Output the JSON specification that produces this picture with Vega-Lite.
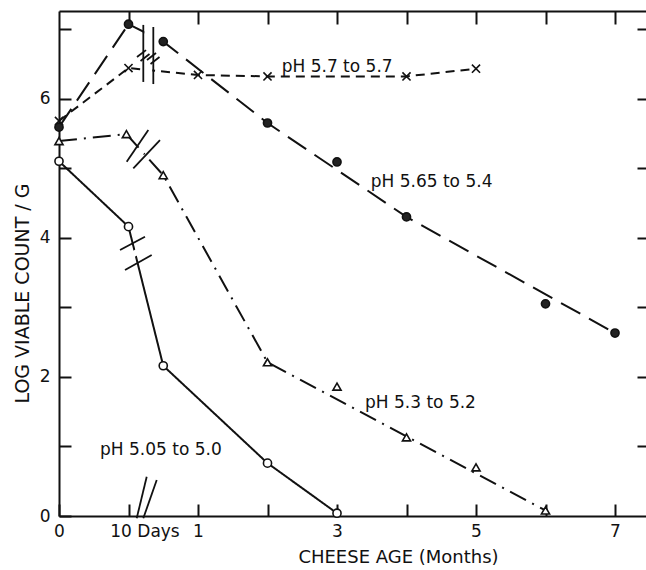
{
  "$schema": "https://vega.github.io/schema/vega-lite/v6.json",
  "width": 587,
  "height": 505,
  "autosize": {"type": "none"},
  "padding": {"left": 59, "top": 11, "right": 0, "bottom": 54},
  "background": "white",
  "config": {
    "view": {"stroke": null},
    "axis": {
      "grid": false,
      "domainColor": "#111111",
      "tickColor": "#111111",
      "labelColor": "#111111",
      "titleColor": "#111111",
      "labelFont": "DejaVu Sans",
      "titleFont": "DejaVu Sans",
      "labelFontSize": 17,
      "titleFontSize": 18,
      "titleFontWeight": "normal",
      "domainWidth": 2,
      "tickWidth": 2,
      "labelOverlap": false,
      "labelFlush": false
    }
  },
  "datasets": {
    "points": [
      {"series": "pH 5.7 to 5.7", "p": 0, "v": 5.68},
      {"series": "pH 5.7 to 5.7", "p": 1, "v": 6.44},
      {"series": "pH 5.7 to 5.7", "p": 2, "v": 6.34},
      {"series": "pH 5.7 to 5.7", "p": 3, "v": 6.32},
      {"series": "pH 5.7 to 5.7", "p": 5, "v": 6.32},
      {"series": "pH 5.7 to 5.7", "p": 6, "v": 6.43},
      {"series": "pH 5.65 to 5.4", "p": 0, "v": 5.59},
      {"series": "pH 5.65 to 5.4", "p": 1, "v": 7.07},
      {"series": "pH 5.65 to 5.4", "p": 1.5, "v": 6.82},
      {"series": "pH 5.65 to 5.4", "p": 3, "v": 5.65},
      {"series": "pH 5.65 to 5.4", "p": 4, "v": 5.09},
      {"series": "pH 5.65 to 5.4", "p": 5, "v": 4.30},
      {"series": "pH 5.65 to 5.4", "p": 7, "v": 3.05},
      {"series": "pH 5.65 to 5.4", "p": 8, "v": 2.63},
      {"series": "pH 5.3 to 5.2", "p": 0, "v": 5.39},
      {"series": "pH 5.3 to 5.2", "p": 0.97, "v": 5.49},
      {"series": "pH 5.3 to 5.2", "p": 1.5, "v": 4.90},
      {"series": "pH 5.3 to 5.2", "p": 3, "v": 2.21},
      {"series": "pH 5.3 to 5.2", "p": 4, "v": 1.86},
      {"series": "pH 5.3 to 5.2", "p": 5, "v": 1.13},
      {"series": "pH 5.3 to 5.2", "p": 6, "v": 0.70},
      {"series": "pH 5.3 to 5.2", "p": 7, "v": 0.08},
      {"series": "pH 5.05 to 5.0", "p": 0, "v": 5.10},
      {"series": "pH 5.05 to 5.0", "p": 1, "v": 4.16},
      {"series": "pH 5.05 to 5.0", "p": 1.5, "v": 2.16},
      {"series": "pH 5.05 to 5.0", "p": 3, "v": 0.76},
      {"series": "pH 5.05 to 5.0", "p": 4, "v": 0.04}
    ],
    "curves": [
      {"series": "pH 5.7 to 5.7", "p": 0, "v": 5.68},
      {"series": "pH 5.7 to 5.7", "p": 1, "v": 6.44},
      {"series": "pH 5.7 to 5.7", "p": 2, "v": 6.34},
      {"series": "pH 5.7 to 5.7", "p": 3, "v": 6.32},
      {"series": "pH 5.7 to 5.7", "p": 5, "v": 6.32},
      {"series": "pH 5.7 to 5.7", "p": 6, "v": 6.43},
      {"series": "pH 5.65 to 5.4", "p": 0, "v": 5.59},
      {"series": "pH 5.65 to 5.4", "p": 1, "v": 7.07},
      {"series": "pH 5.65 to 5.4", "p": 1.5, "v": 6.82},
      {"series": "pH 5.65 to 5.4", "p": 3, "v": 5.65},
      {"series": "pH 5.65 to 5.4", "p": 5, "v": 4.30},
      {"series": "pH 5.65 to 5.4", "p": 8, "v": 2.63},
      {"series": "pH 5.3 to 5.2", "p": 0, "v": 5.39},
      {"series": "pH 5.3 to 5.2", "p": 0.97, "v": 5.49},
      {"series": "pH 5.3 to 5.2", "p": 1.5, "v": 4.90},
      {"series": "pH 5.3 to 5.2", "p": 3, "v": 2.21},
      {"series": "pH 5.3 to 5.2", "p": 7, "v": 0.08},
      {"series": "pH 5.05 to 5.0", "p": 0, "v": 5.10},
      {"series": "pH 5.05 to 5.0", "p": 1, "v": 4.16},
      {"series": "pH 5.05 to 5.0", "p": 1.5, "v": 2.16},
      {"series": "pH 5.05 to 5.0", "p": 3, "v": 0.76},
      {"series": "pH 5.05 to 5.0", "p": 4, "v": 0.04}
    ],
    "masks": [
      {"brk": "high", "p1": 1.285, "v1": 6.12, "p2": 1.285, "v2": 7.12},
      {"brk": "mid", "p1": 1.022, "v1": 5.045, "p2": 1.37, "v2": 5.477},
      {"brk": "low", "p1": 0.914, "v1": 3.68, "p2": 1.285, "v2": 3.884}
    ],
    "bars": [
      {"p1": 1.213, "v1": 6.24, "p2": 1.213, "v2": 7.06},
      {"p1": 1.357, "v1": 6.21, "p2": 1.357, "v2": 7.03},
      {"p1": 1.122, "v1": 6.598, "p2": 1.252, "v2": 6.698},
      {"p1": 1.173, "v1": 6.54, "p2": 1.302, "v2": 6.641},
      {"p1": 1.266, "v1": 6.555, "p2": 1.396, "v2": 6.655},
      {"p1": 1.317, "v1": 6.497, "p2": 1.446, "v2": 6.598},
      {"p1": 0.974, "v1": 5.093, "p2": 1.285, "v2": 5.548},
      {"p1": 1.069, "v1": 4.998, "p2": 1.453, "v2": 5.405},
      {"p1": 0.878, "v1": 3.823, "p2": 1.237, "v2": 4.015},
      {"p1": 0.95, "v1": 3.536, "p2": 1.334, "v2": 3.752},
      {"p1": 1.118, "v1": -0.033, "p2": 1.262, "v2": 0.565},
      {"p1": 1.213, "v1": -0.033, "p2": 1.406, "v2": 0.518}
    ],
    "labels": [
      {"text": "pH 5.7  to 5.7", "p": 3.204, "v": 6.39},
      {"text": "pH 5.65 to 5.4", "p": 4.485, "v": 4.73},
      {"text": "pH 5.3 to 5.2", "p": 4.403, "v": 1.548},
      {"text": "pH 5.05  to 5.0", "p": 0.59, "v": 0.877}
    ]
  },
  "resolve": {"axis": {"x": "independent", "y": "independent"}},
  "layer": [
    {
      "data": {"name": "curves"},
      "mark": {"type": "line", "color": "#111111", "strokeWidth": 2},
      "encoding": {
        "x": {
          "field": "p", "type": "quantitative",
          "scale": {"domain": [0, 8.446], "nice": false, "zero": false},
          "axis": {
            "orient": "bottom",
            "values": [0, 1, 2, 3, 4, 5, 6, 7, 8],
            "tickSize": -12,
            "labelPadding": 19,
            "labelExpr": "['0','10 Days','1','','3','','5','','7'][datum.value]",
            "labelOffset": {"condition": {"test": "datum.value == 1", "value": 16}, "value": 0},
            "title": "CHEESE  AGE  (Months)",
            "titleX": 339,
            "titleY": 41,
            "titleBaseline": "middle",
            "titleAlign": "center"
          }
        },
        "y": {
          "field": "v", "type": "quantitative",
          "scale": {"domain": [0, 7.26], "nice": false, "zero": false},
          "axis": {
            "orient": "left",
            "values": [0, 1, 2, 3, 4, 5, 6, 7],
            "tickSize": -12,
            "labelPadding": 21,
            "labelExpr": "datum.value % 2 == 0 ? datum.label : ''",
            "title": "LOG  VIABLE  COUNT / G",
            "titleFontSize": 19,
            "titleX": -37,
            "titleY": 282,
            "titleAngle": -90,
            "titleBaseline": "middle",
            "titleAlign": "center"
          }
        },
        "detail": {"field": "series", "type": "nominal"},
        "strokeDash": {
          "field": "series", "type": "nominal",
          "scale": {
            "domain": ["pH 5.7 to 5.7", "pH 5.65 to 5.4", "pH 5.3 to 5.2", "pH 5.05 to 5.0"],
            "range": [[9, 6], [22, 10], [18, 7, 2, 7], [1, 0]]
          },
          "legend": null
        }
      }
    },
    {
      "data": {"name": "masks"},
      "mark": {"type": "rule", "color": "white", "strokeCap": "butt"},
      "encoding": {
        "x": {"field": "p1", "type": "quantitative", "axis": null},
        "y": {"field": "v1", "type": "quantitative", "axis": null},
        "x2": {"field": "p2"},
        "y2": {"field": "v2"},
        "strokeWidth": {
          "field": "brk", "type": "nominal",
          "scale": {"domain": ["high", "mid", "low"], "range": [8, 6, 15]},
          "legend": null
        }
      }
    },
    {
      "data": {"name": "bars"},
      "mark": {"type": "rule", "color": "#111111", "strokeWidth": 1.8},
      "encoding": {
        "x": {"field": "p1", "type": "quantitative", "axis": null},
        "y": {"field": "v1", "type": "quantitative", "axis": null},
        "x2": {"field": "p2"},
        "y2": {"field": "v2"}
      }
    },
    {
      "data": {"name": "points"},
      "mark": {"type": "point", "filled": true, "size": 66, "stroke": "#111111", "strokeWidth": 1.6, "opacity": 1},
      "encoding": {
        "x": {
          "field": "p", "type": "quantitative",
          "axis": {"orient": "top", "values": [1, 2, 3, 4, 5, 6, 7, 8], "tickSize": -13, "labels": false, "title": null, "domain": true}
        },
        "y": {
          "field": "v", "type": "quantitative",
          "axis": {"orient": "right", "values": [1, 2, 3, 4, 5, 6, 7], "tickSize": -9, "labels": false, "title": null, "domain": false}
        },
        "shape": {
          "field": "series", "type": "nominal",
          "scale": {
            "domain": ["pH 5.7 to 5.7", "pH 5.65 to 5.4", "pH 5.3 to 5.2", "pH 5.05 to 5.0"],
            "range": ["M-1,-1L1,1M1,-1L-1,1", "circle", "triangle-up", "circle"]
          },
          "legend": null
        },
        "fill": {
          "field": "series", "type": "nominal",
          "scale": {
            "domain": ["pH 5.7 to 5.7", "pH 5.65 to 5.4", "pH 5.3 to 5.2", "pH 5.05 to 5.0"],
            "range": ["#ffffff", "#222222", "#ffffff", "#ffffff"]
          },
          "legend": null
        }
      }
    },
    {
      "data": {"name": "labels"},
      "mark": {"type": "text", "align": "left", "baseline": "alphabetic", "font": "DejaVu Sans", "fontSize": 17, "color": "#111111"},
      "encoding": {
        "x": {"field": "p", "type": "quantitative", "axis": null},
        "y": {"field": "v", "type": "quantitative", "axis": null},
        "text": {"field": "text"}
      }
    }
  ]
}
